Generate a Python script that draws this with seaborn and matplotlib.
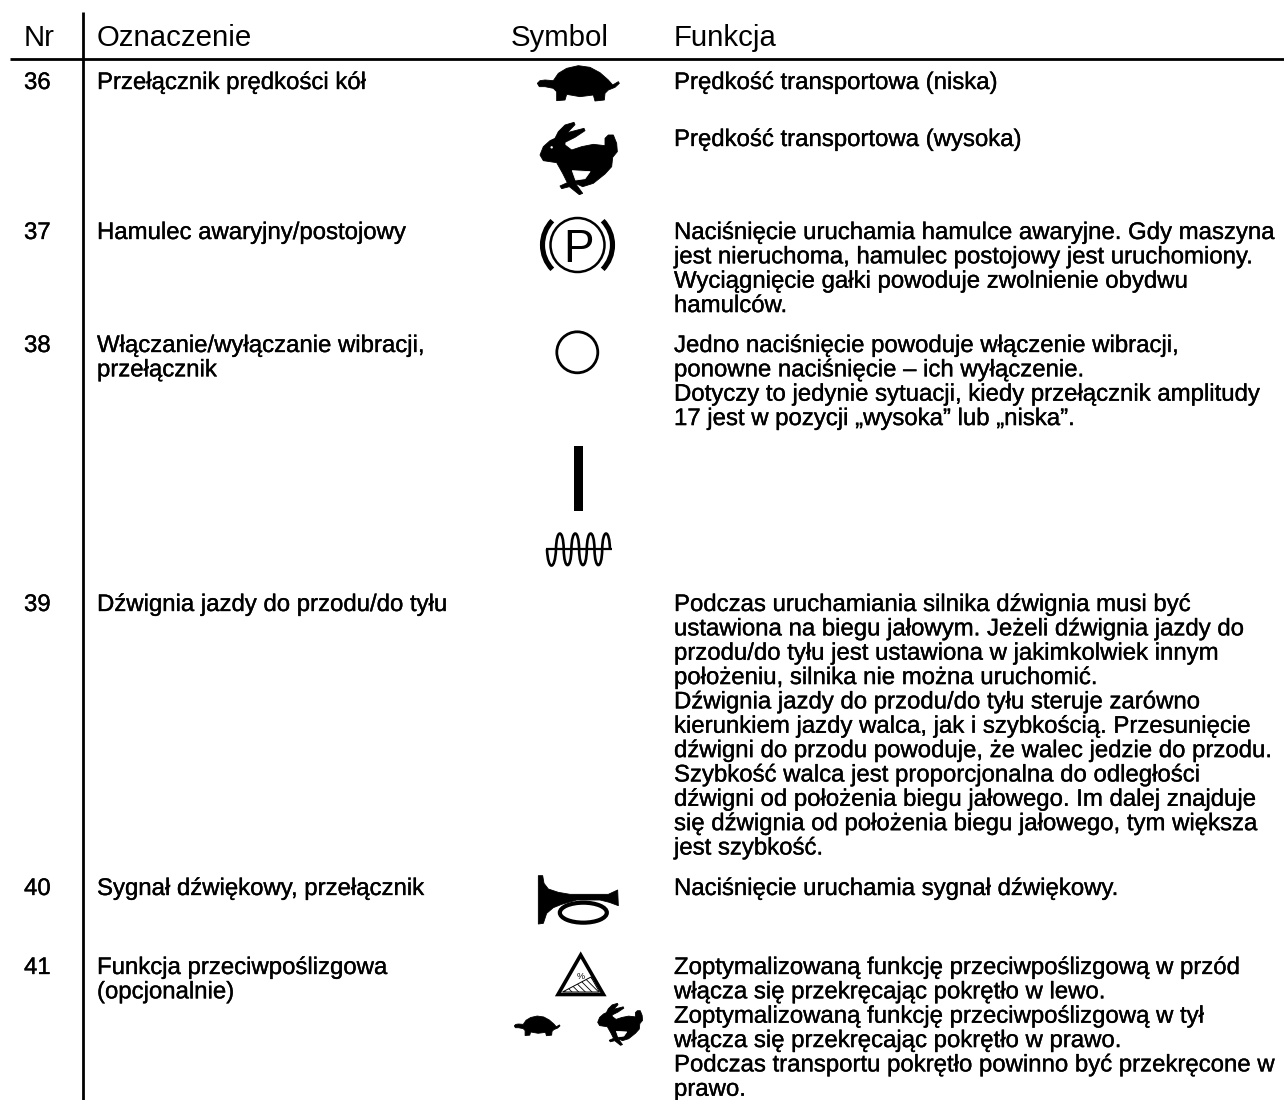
import matplotlib
matplotlib.use('Agg')
import matplotlib.pyplot as plt
import matplotlib.patheffects as pe
import seaborn as sns
from matplotlib.patches import Polygon, Circle, Ellipse, Arc, Rectangle, PathPatch
from matplotlib.path import Path

# Dane tabeli
headers = ['Nr', 'Oznaczenie', 'Symbol', 'Funkcja']
numbers = ['36', '37', '38', '39', '40', '41']
names = [
    ['Przełącznik prędkości kół'],
    ['Hamulec awaryjny/postojowy'],
    ['Włączanie/wyłączanie wibracji,', 'przełącznik'],
    ['Dźwignia jazdy do przodu/do tyłu'],
    ['Sygnał dźwiękowy, przełącznik'],
    ['Funkcja przeciwpoślizgowa', '(opcjonalnie)'],
]
functions = [
    ['Prędkość transportowa (niska)'],
    ['Naciśnięcie uruchamia hamulce awaryjne. Gdy maszyna',
     'jest nieruchoma, hamulec postojowy jest uruchomiony.',
     'Wyciągnięcie gałki powoduje zwolnienie obydwu',
     'hamulców.'],
    ['Jedno naciśnięcie powoduje włączenie wibracji,',
     'ponowne naciśnięcie – ich wyłączenie.',
     'Dotyczy to jedynie sytuacji, kiedy przełącznik amplitudy',
     '17 jest w pozycji „wysoka” lub „niska”.'],
    ['Podczas uruchamiania silnika dźwignia musi być',
     'ustawiona na biegu jałowym. Jeżeli dźwignia jazdy do',
     'przodu/do tyłu jest ustawiona w jakimkolwiek innym',
     'położeniu, silnika nie można uruchomić.',
     'Dźwignia jazdy do przodu/do tyłu steruje zarówno',
     'kierunkiem jazdy walca, jak i szybkością. Przesunięcie',
     'dźwigni do przodu powoduje, że walec jedzie do przodu.',
     'Szybkość walca jest proporcjonalna do odległości',
     'dźwigni od położenia biegu jałowego. Im dalej znajduje',
     'się dźwignia od położenia biegu jałowego, tym większa',
     'jest szybkość.'],
    ['Naciśnięcie uruchamia sygnał dźwiękowy.'],
    ['Zoptymalizowaną funkcję przeciwpoślizgową w przód',
     'włącza się przekręcając pokrętło w lewo.',
     'Zoptymalizowaną funkcję przeciwpoślizgową w tył',
     'włącza się przekręcając pokrętło w prawo.',
     'Podczas transportu pokrętło powinno być przekręcone w',
     'prawo.'],
]
extra_function = 'Prędkość transportowa (wysoka)'
row_baselines = [89, 239, 352, 611, 895, 974]

turtle = [(82, 100), (90, 92), (105, 90), (130, 92), (145, 70), (170, 55), (205, 47), (240, 52),
          (270, 68), (295, 90), (308, 105), (325, 95), (328, 100), (315, 112), (295, 120), (285, 130),
          (283, 150), (255, 153), (250, 135), (210, 140), (170, 133), (165, 150), (140, 152),
          (140, 125), (130, 115), (105, 110), (88, 110)]
rabbit = [(90, 315), (100, 290), (120, 272), (135, 265), (145, 245), (165, 225), (192, 217), (195, 224),
          (172, 248), (222, 235), (225, 242), (195, 262), (165, 277), (165, 285), (185, 300), (215, 290),
          (250, 283), (285, 287), (285, 265), (295, 255), (310, 255), (320, 280), (322, 305), (308, 322),
          (305, 350), (285, 372), (250, 400), (218, 410), (196, 400), (218, 430), (208, 434), (178, 410),
          (155, 416), (150, 408), (172, 398), (158, 370), (140, 338), (120, 335), (100, 332)]
rabbit_gap = [(187, 362), (240, 365), (225, 386), (197, 390)]
horn = [(55, 32), (68, 32), (72, 55), (85, 72), (115, 82), (150, 88), (265, 88), (293, 75), (295, 122),
        (268, 112), (240, 105), (170, 105), (125, 118), (100, 128), (80, 145), (70, 175), (55, 177)]

sns.set_theme(style='white')
plt.rcParams['font.family'] = ['Liberation Sans', 'DejaVu Sans']
plt.rcParams['hatch.linewidth'] = 0.6

fig = plt.figure(figsize=(12.84, 11), dpi=100)
ax = fig.add_axes([0, 0, 1, 1])
ax.set_xlim(0, 1284)
ax.set_ylim(1100, 0)
ax.axis('off')

BODY = 17.25
HEAD = 21.2
STEP = 24.35
NUM_X, NAME_X, FUNC_X = 24, 97, 674
heavy = [pe.withStroke(linewidth=0.25, foreground='black')]

# linie tabeli
ax.hlines(59, 10, 1284, color='black', lw=2)
ax.vlines(83, 12, 1100, color='black', lw=2)

for label, x in zip(headers, [NUM_X, NAME_X, 511, FUNC_X]):
    ax.text(x, 46, label, fontsize=HEAD, color='black', va='baseline')

for num, name, func, y in zip(numbers, names, functions, row_baselines):
    ax.text(NUM_X, y, num, fontsize=BODY, color='black', va='baseline', path_effects=heavy)
    for i, line in enumerate(name):
        ax.text(NAME_X, y + i * STEP, line, fontsize=BODY, color='black', va='baseline', path_effects=heavy)
    for i, line in enumerate(func):
        ax.text(FUNC_X, y + i * STEP, line, fontsize=BODY, color='black', va='baseline', path_effects=heavy)
ax.text(FUNC_X, 146, extra_function, fontsize=BODY, color='black', va='baseline', path_effects=heavy)


def shape(points, ox, oy, s=1.0, color='black'):
    # punkty z powiekszenia 3x
    pts = [(ox + s * px / 3, oy + s * py / 3) for px, py in points]
    ax.add_patch(Polygon(pts, closed=True, fc=color, ec=color, lw=0.6, joinstyle='round'))


def draw_rabbit(ox, oy, s=1.0):
    shape(rabbit, ox, oy, s)
    shape(rabbit_gap, ox, oy, s, color='white')
    if s == 1.0:
        ax.add_patch(Circle((ox + 125 / 3, oy + 292 / 3), 1.2, fc='white', ec='none'))


# zolw i krolik
shape(turtle, 510, 50)
draw_rabbit(510, 50)

# hamulec postojowy
ax.add_patch(Circle((577.5, 245), 27, fc='none', ec='black', lw=1.8))
ax.text(578.5, 262, 'P', fontsize=33, ha='center', va='baseline', color='black')
ax.add_patch(Arc((577.5, 245), 70, 70, theta1=136, theta2=224, color='black', lw=3.7))
ax.add_patch(Arc((577.5, 245), 70, 70, theta1=-44, theta2=44, color='black', lw=3.7))

# kolo
ax.add_patch(Circle((577.3, 352.3), 20.5, fc='none', ec='black', lw=2))

# pionowa kreska i cewka
ax.add_patch(Rectangle((574.3, 446), 8.4, 65, fc='black', ec='none'))
ax.hlines(549.3, 545.7, 612.3, color='black', lw=1.6)
verts, codes = [(547, 549.3)], [Path.MOVETO]
verts += [(548, 571), (555, 571), (556, 549.3)]
codes += [Path.CURVE4] * 3
x = 556
for k in range(7):
    yy = 549.3 + (-21 if k % 2 == 0 else 21)
    verts += [(x + 0.3, yy), (x + 7.4, yy), (x + 7.7, 549.3)]
    x += 7.7
    codes += [Path.CURVE4] * 3
ax.add_patch(PathPatch(Path(verts, codes), fc='none', ec='black', lw=1.9))

# klakson
shape(horn, 520, 865)
ax.add_patch(Ellipse((520 + 190 / 3, 865 + 143 / 3), 47, 20, fc='none', ec='black', lw=3))

# trojkat ostrzegawczy
ax.add_patch(Polygon([(580.7, 955), (558, 994.5), (603.5, 994.5)], closed=True, fc='white', ec='black',
                     lw=2.6, joinstyle='miter'))
ax.add_patch(Polygon([(562.5, 992), (591, 977), (599.5, 992)], closed=True, fc='white', ec='black',
                     lw=0.7, hatch='\\\\\\\\\\'))
ax.text(581, 979, '%', fontsize=6.5, ha='center', va='baseline', color='black')

# male symbole
shape(turtle, 499.1, 1007.3, 0.557)
draw_rabbit(580.3, 961.4, 0.58)

fig.savefig('out.png', dpi=100, facecolor='white')
